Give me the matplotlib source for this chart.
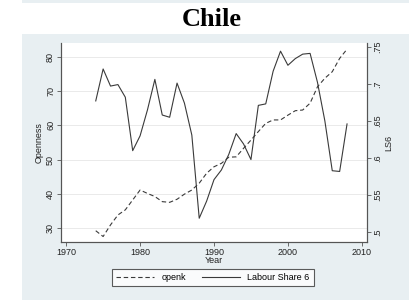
import matplotlib
matplotlib.use("Agg")
import matplotlib.pyplot as plt
from matplotlib.patches import Rectangle

years = list(range(1974, 2009))
openk = [29.2, 27.5, 30.9, 33.8, 35.3, 38.2, 41.1, 40.1, 39.2, 37.7, 37.5, 38.4,
         39.9, 41.1, 43.1, 46.0, 47.9, 48.9, 50.7, 50.8, 53.3, 55.7, 58.2, 60.6,
         61.6, 61.6, 63.0, 64.3, 64.5, 66.5, 71.3, 73.8, 75.7, 79.6, 82.3]
ls6 = [.677, .720, .697, .699, .682, .610, .630, .665, .706, .658, .655, .701,
       .674, .631, .519, .542, .571, .584, .605, .633, .619, .598, .671, .673,
       .717, .744, .725, .734, .740, .741, .702, .650, .583, .582, .646]
left_ticks = [30, 40, 50, 60, 70, 80]
right_ticks = [.5, .55, .6, .65, .7, .75]
right_labels = [".5", ".55", ".6", ".65", ".7", ".75"]
x_ticks = [1970, 1980, 1990, 2000, 2010]

W, H = 409, 300
fig = plt.figure(figsize=(W / 100, H / 100), dpi=100)
fig.patch.set_facecolor("white")
panel = "#e8eff2"
fig.patches.append(Rectangle((22 / W, 0), 1 - 22 / W, 1 - 34 / H, transform=fig.transFigure,
                             facecolor=panel, edgecolor="none", zorder=-10))
fig.patches.append(Rectangle((22 / W, 1 - 3 / H), 1 - 22 / W, 3 / H, transform=fig.transFigure,
                             facecolor=panel, edgecolor="none", zorder=-10))
fig.text(212 / W, 1 - 19 / H, "Chile", ha="center", va="center", fontsize=19,
         fontweight="bold", family="Liberation Serif")

ax = fig.add_axes([61 / W, 1 - 242 / H, 306 / W, 199 / H])
ax.set_facecolor("white")
ax2 = ax.twinx()

fs = 6.5
lc = "#3a3a3a"
l1, = ax.plot(years, openk, color=lc, lw=0.8, linestyle=(0, (4, 2.5)), label="openk")
l2, = ax2.plot(years, ls6, color=lc, lw=0.8, label="Labour Share 6")

ax.set_xlim(1969.3, 2010.7)
ax.set_ylim(25.9, 84.1)
ax2.set_ylim(.487, .755)
ax.set_xticks(x_ticks)
ax.set_yticks(left_ticks)
ax2.set_yticks(right_ticks)
ax2.set_yticklabels(right_labels)
ax.grid(axis="y", color="#eaeaea", lw=0.7)
ax.set_axisbelow(True)

for a in (ax, ax2):
    a.spines["top"].set_visible(False)
    for s in ("left", "right", "bottom"):
        a.spines[s].set_color("#555555")
        a.spines[s].set_linewidth(0.8)
    a.tick_params(length=2.8, width=0.6, color="#555555", labelsize=fs, pad=1.5,
                  labelcolor="#222222")
    for lab in a.get_xticklabels() + a.get_yticklabels():
        lab.set_family("Liberation Sans")

for lab in ax.get_yticklabels():
    lab.set_rotation(90)
    lab.set_va("center")
for lab in ax2.get_yticklabels():
    lab.set_rotation(90)
    lab.set_va("center")

ax.set_xlabel("Year", fontsize=fs, family="Liberation Sans", labelpad=-0.5, color="#222222")
ax.set_ylabel("Openness", fontsize=fs, family="Liberation Sans", labelpad=1.5, color="#222222")
ax2.set_ylabel("LS6", fontsize=fs, family="Liberation Sans", labelpad=2, color="#222222")

leg = fig.legend([l1, l2], ["openk", "Labour Share 6"], ncol=2, loc="center",
                 bbox_to_anchor=(213 / W, 1 - 277.5 / H),
                 prop={"family": "Liberation Sans", "size": fs},
                 frameon=True, fancybox=False, handlelength=4.2, columnspacing=1.8,
                 handletextpad=0.8, borderpad=0.45, edgecolor="#333333")
leg.get_frame().set_linewidth(0.8)
leg.get_frame().set_facecolor("white")

fig.savefig("out.png", dpi=100)
